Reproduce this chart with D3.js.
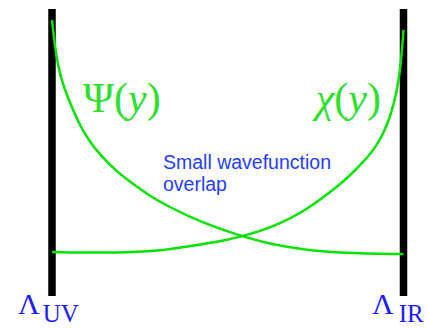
<!DOCTYPE html>
<html>
<head>
<meta charset="utf-8">
<script src="https://cdn.jsdelivr.net/npm/d3@7"></script>
<style>
  html, body { margin: 0; padding: 0; background: #fff; }
  svg { display: block; }
</style>
</head>
<body>
<svg id="chart" width="426" height="328"></svg>
<script>
// Position across the slice, 0 = UV brane, 1 = IR brane
const psiX   = [0, 0.006, 0.017, 0.034, 0.060, 0.080, 0.108, 0.137, 0.185, 0.231, 0.279, 0.328, 0.422, 0.536, 0.630, 0.726, 0.821, 1.000];
// Profile peaked on the UV brane
const psiAmp = [1.000, 0.915, 0.801, 0.712, 0.619, 0.551, 0.483, 0.428, 0.356, 0.305, 0.254, 0.212, 0.144, 0.085, 0.047, 0.025, 0.013, 0.008];

const chiX   = [0, 0.137, 0.279, 0.373, 0.470, 0.536, 0.630, 0.726, 0.821, 0.840, 0.886, 0.926, 0.954, 0.972, 0.986, 0.994, 1.000];
// Profile peaked on the IR brane
const chiAmp = [0.017, 0.013, 0.017, 0.038, 0.059, 0.081, 0.123, 0.195, 0.305, 0.331, 0.398, 0.470, 0.555, 0.640, 0.737, 0.839, 0.958];

const branes = [
  { pos: 0, name: "UV" },
  { pos: 1, name: "IR" }
];
const curveLabels = [
  { sym: "\u03A8", italic: false, at: 0 },   // Ψ(y)
  { sym: "\u03C7", italic: true,  at: 1 }    // χ(y)
];
const noteLines = ["Small wavefunction", "overlap"];

const svg = d3.select("#chart");

const x = d3.scaleLinear().domain([0, 1]).range([52, 403.5]);
const y = d3.scaleLinear().domain([0, 1]).range([256, 20]);

const green = "#00e400";
const blue = "#1b1bff";

// Branes
svg.selectAll("line.brane")
  .data(branes)
  .enter().append("line")
  .attr("class", "brane")
  .attr("x1", d => x(d.pos)).attr("x2", d => x(d.pos))
  .attr("y1", 9).attr("y2", 296)
  .attr("stroke", "#000")
  .attr("stroke-width", 7.5);

// Wavefunction profiles
const line = d3.line()
  .x(d => x(d[0]))
  .y(d => y(d[1]))
  .curve(d3.curveBasis);

const profiles = [d3.zip(psiX, psiAmp), d3.zip(chiX, chiAmp)];
svg.selectAll("path.profile")
  .data(profiles)
  .enter().append("path")
  .attr("class", "profile")
  .attr("d", line)
  .attr("fill", "none")
  .attr("stroke", green)
  .attr("stroke-width", 2.5);

// Curve labels Ψ(y), χ(y)
const lab = svg.selectAll("text.curve")
  .data(curveLabels)
  .enter().append("text")
  .attr("class", "curve")
  .attr("x", d => d.at === 0 ? 83 : 381)
  .attr("y", 112)
  .attr("text-anchor", d => d.at === 0 ? "start" : "end")
  .attr("font-family", "'Liberation Serif', 'DejaVu Serif', serif")
  .attr("font-size", 42)
  .attr("fill", "#2ee02e");
lab.append("tspan").attr("font-style", d => d.italic ? "italic" : "normal").text(d => d.sym);
lab.append("tspan").text("(");
lab.append("tspan").attr("font-style", "italic").text("y");
lab.append("tspan").text(")");

// Annotation
svg.append("text")
  .attr("x", 163).attr("y", 169)
  .attr("font-family", "'Liberation Sans', Arial, sans-serif")
  .attr("font-size", 19.5)
  .attr("fill", "#1f40ff")
  .selectAll("tspan")
  .data(noteLines)
  .enter().append("tspan")
  .attr("x", 163)
  .attr("dy", (d, i) => i === 0 ? 0 : 22)
  .text(d => d);

// Brane labels Λ_UV, Λ_IR
const bl = svg.selectAll("text.brane-label")
  .data(branes)
  .enter().append("text")
  .attr("class", "brane-label")
  .attr("x", d => d.pos === 0 ? 18 : 372)
  .attr("y", 314)
  .attr("font-family", "'Liberation Serif', 'DejaVu Serif', serif")
  .attr("fill", blue);
bl.append("tspan").attr("font-size", 30).text("\u039B");
bl.append("tspan").attr("font-size", 25).attr("dx", d => d.pos === 0 ? 3 : 5).attr("dy", 8).text(d => d.name);
</script>
</body>
</html>
